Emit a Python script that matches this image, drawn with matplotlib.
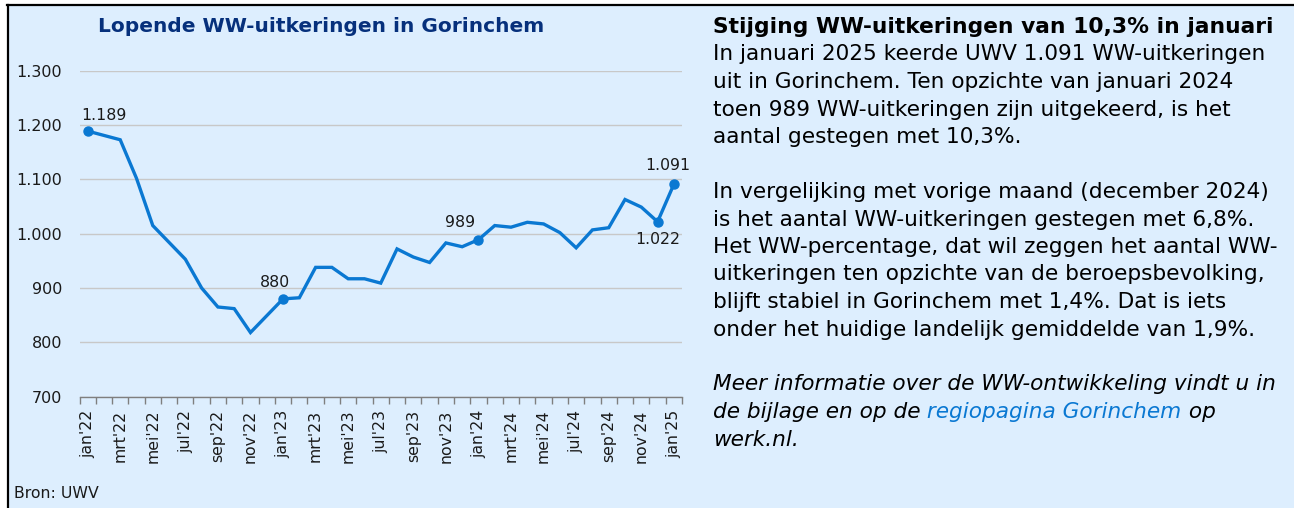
import matplotlib
matplotlib.use("Agg")
import matplotlib.pyplot as plt
from matplotlib.patches import Rectangle
from matplotlib.lines import Line2D

W, H = 1294, 508

# data
values = [1189, 1181, 1173, 1102, 1015, 984, 953, 900, 865, 862, 818, 849,
          880, 882, 938, 938, 917, 917, 909, 972, 957, 947, 983, 976,
          989, 1015, 1012, 1021, 1018, 1002, 974, 1007, 1011, 1063, 1049, 1022,
          1091]
tick_labels = ["jan'22", "mrt'22", "mei'22", "jul'22", "sep'22", "nov'22",
               "jan'23", "mrt'23", "mei'23", "jul'23", "sep'23", "nov'23",
               "jan'24", "mrt'24", "mei'24", "jul'24", "sep'24", "nov'24",
               "jan'25"]
labelled = [0, 12, 24, 35, 36]
y_ticks = [700, 800, 900, 1000, 1100, 1200, 1300]

BG = "#DDEEFE"
LINE = "#0A78D2"
NAVY = "#06307C"
TXT = "#1A1A1A"

plt.rcParams["font.family"] = ["DejaVu Sans"]


def nl(v):
    return f"{v:,}".replace(",", ".")


fig = plt.figure(figsize=(W / 100, H / 100), dpi=100, facecolor="white")

# panel background with black top/left border
fig.add_artist(Rectangle((8 / W, 0), 1 - 8 / W, (H - 5) / H, transform=fig.transFigure,
                         facecolor=BG, edgecolor="none", zorder=0))
fig.add_artist(Line2D([7 / W, 1], [1 - 4.5 / H, 1 - 4.5 / H], transform=fig.transFigure,
                      color="black", lw=1.6))
fig.add_artist(Line2D([8 / W, 8 / W], [0, 1 - 4.5 / H], transform=fig.transFigure,
                      color="black", lw=1.6))

# chart axes
ax = fig.add_axes([79.5 / W, 1 - 396.6 / H, (682 - 79.5) / W, (396.6 - 70.8) / H])
ax.set_facecolor("none")
x = list(range(len(values)))
ax.plot(x, values, color=LINE, lw=2.4, solid_joinstyle="miter", zorder=3)
ax.plot([x[i] for i in labelled], [values[i] for i in labelled], "o", color=LINE,
        ms=6.5, zorder=4)

ax.set_xlim(-0.5, len(values) - 0.5)
ax.set_ylim(700, 1300)
ax.set_yticks(y_ticks)
ax.set_yticklabels([nl(v) for v in y_ticks])
ax.set_xticks(range(0, len(values), 2))
ax.set_xticklabels(tick_labels, rotation=90)
ax.set_xticks([i - 0.5 for i in range(len(values) + 1)], minor=True)
ax.tick_params(axis="x", which="major", length=0, pad=9.5, labelsize=11.3, labelcolor=TXT)
ax.tick_params(axis="x", which="minor", length=5, width=1, color="#7F7F7F", direction="out")
ax.tick_params(axis="y", length=0, pad=12.5, labelsize=11.5, labelcolor=TXT)
for s in ["top", "right", "left"]:
    ax.spines[s].set_visible(False)
ax.spines["bottom"].set_color("#7F7F7F")
ax.spines["bottom"].set_linewidth(1)
ax.grid(axis="y", color="#C8C8C8", lw=1)
ax.set_axisbelow(True)

offsets = {0: (16, 16), 12: (-8, 16), 24: (-18, 17), 35: (0, -18), 36: (-6, 19)}
for i in labelled:
    ax.annotate(nl(values[i]), (x[i], values[i]), xytext=offsets[i],
                textcoords="offset pixels", ha="center", va="center",
                fontsize=11.3, color=TXT)

fig.text(321 / W, 1 - 26 / H, "Lopende WW-uitkeringen in Gorinchem", ha="center",
         va="center", fontsize=14.5, fontweight="bold", color=NAVY)
fig.text(14 / W, 1 - 494 / H, "Bron: UWV", ha="left", va="center", fontsize=11.3, color=TXT)

# text block on the right
tx = 713 / W
fig.text(tx, 1 - 27 / H, "Stijging WW-uitkeringen van 10,3% in januari", ha="left",
         va="center", fontsize=15.7, fontweight="bold", color="black")
body = [
    "In januari 2025 keerde UWV 1.091 WW-uitkeringen",
    "uit in Gorinchem. Ten opzichte van januari 2024",
    "toen 989 WW-uitkeringen zijn uitgekeerd, is het",
    "aantal gestegen met 10,3%.",
    "",
    "In vergelijking met vorige maand (december 2024)",
    "is het aantal WW-uitkeringen gestegen met 6,8%.",
    "Het WW-percentage, dat wil zeggen het aantal WW-",
    "uitkeringen ten opzichte van de beroepsbevolking,",
    "blijft stabiel in Gorinchem met 1,4%. Dat is iets",
    "onder het huidige landelijk gemiddelde van 1,9%.",
]
step = 27.5
for k, line in enumerate(body, start=1):
    if line:
        fig.text(tx, 1 - (27 + k * step) / H, line, ha="left", va="center",
                 fontsize=15.6, color="black")

y_meer = 27 + 13 * step
fig.text(tx, 1 - y_meer / H, "Meer informatie over de WW-ontwikkeling vindt u in",
         ha="left", va="center", fontsize=15.6, style="italic", color="black")
t1 = fig.text(tx, 1 - (y_meer + step) / H, "de bijlage en op de", ha="left",
              va="center", fontsize=15.6, style="italic", color="black")
t2 = ax.annotate(" regiopagina Gorinchem", xy=(1, 0), xycoords=t1, ha="left", va="bottom",
                 fontsize=15.6, style="italic", color=LINE, annotation_clip=False)
ax.annotate(" op", xy=(1, 0), xycoords=t2, ha="left", va="bottom",
            fontsize=15.6, style="italic", color="black", annotation_clip=False)
fig.text(tx, 1 - (y_meer + 2 * step) / H, "werk.nl.", ha="left", va="center",
         fontsize=15.6, style="italic", color="black")

fig.savefig("out.png", dpi=100, facecolor="white")
